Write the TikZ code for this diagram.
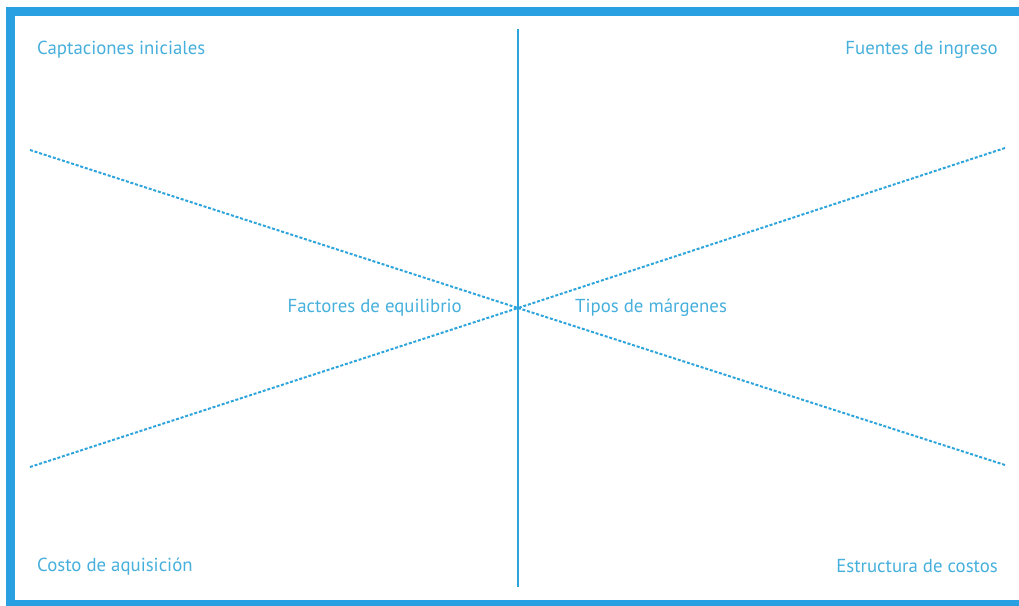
\documentclass[tikz,border=0pt]{standalone}
\usepackage{fontspec}
\setmainfont{PT Sans}
\definecolor{frameblue}{RGB}{40,160,225}
\definecolor{lineblue}{RGB}{45,165,220}
\definecolor{textblue}{RGB}{70,175,220}
\begin{document}
\begin{tikzpicture}[x=1pt,y=-1pt,
  lbl/.style={text=textblue,font=\fontsize{18.8}{21}\selectfont,inner sep=0pt},
  dotline/.style={draw=lineblue,line width=2pt,dash pattern=on 3pt off 1.8pt},
  axis/.style={draw=lineblue,line width=1.8pt}]
\useasboundingbox (0,0) rectangle (1019,605);
\coordinate (ftr) at (1019,11);
\coordinate (ftl) at (10,11);
\coordinate (fbl) at (10,604);
\coordinate (fbr) at (1019,604);
\begin{scope}
\clip (0,0) rectangle (1019,605);
\draw[draw=frameblue,line width=9pt,line join=miter] (ftr) -- (ftl) -- (fbl) -- (fbr);
\end{scope}
\coordinate (c) at (518,308);
\coordinate (top) at (518,29);
\coordinate (bot) at (518,587);
\coordinate (ul) at (30,150);
\coordinate (ll) at (30,467);
\coordinate (ur) at (1005,148);
\coordinate (lr) at (1005,465);
\draw[axis] (top) -- (bot);
\draw[dotline] (ul) -- (c);
\draw[dotline] (ll) -- (c);
\draw[dotline] (ur) -- (c);
\draw[dotline] (lr) -- (c);
\node[lbl,anchor=west] (ci) at (37,50) {Captaciones iniciales};
\node[lbl,anchor=east] (fi) at (998,50) {Fuentes de ingreso};
\node[lbl,anchor=west] (ca) at (37,567) {Costo de aquisición};
\node[lbl,anchor=east] (ec) at (998,566) {Estructura de costos};
\node[lbl,anchor=east] (fe) at (462,308) {Factores de equilibrio};
\node[lbl,anchor=west] (tm) at (575,308) {Tipos de márgenes};
\end{tikzpicture}
\end{document}
